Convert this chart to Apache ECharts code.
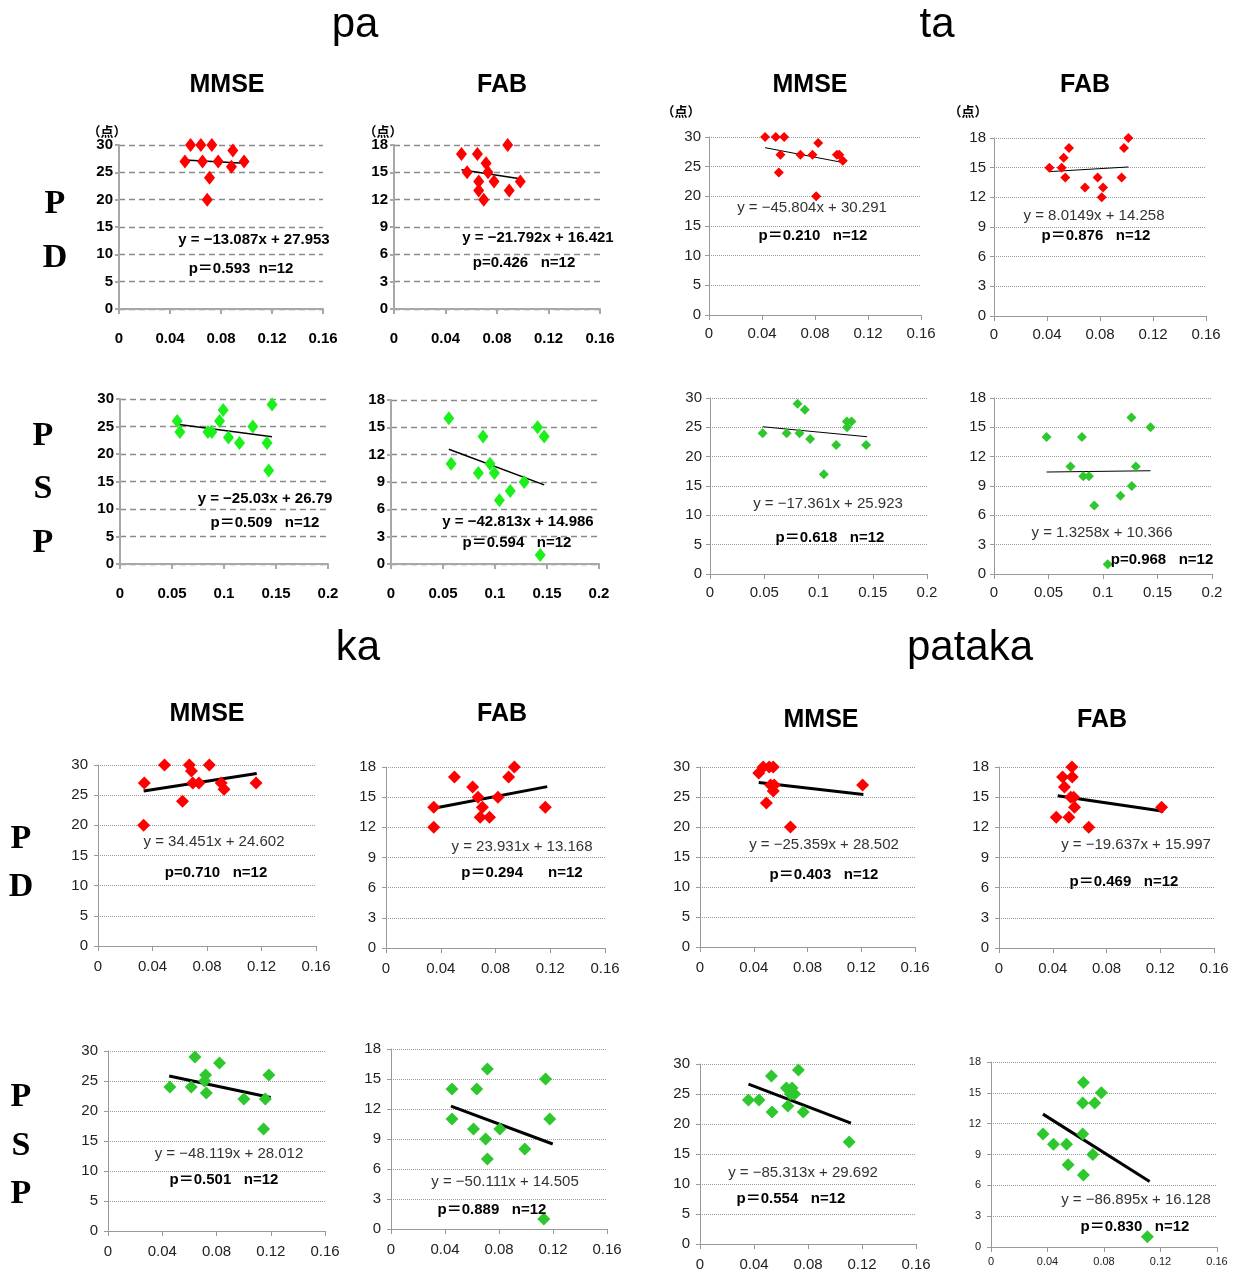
<!DOCTYPE html>
<html><head><meta charset="utf-8">
<script src="https://cdn.jsdelivr.net/npm/echarts@6/dist/echarts.min.js"></script>
<style>html,body{margin:0;padding:0;background:#fff}#c{width:1239px;height:1275px}</style>
</head><body><div id="c"></div>
<script>
// ---------- DATA (x = ratio, y = score) ----------
const paPdMmse = [[0.0517,27],[0.0561,30],[0.0642,30],[0.0655,27],[0.0728,30],[0.0710,24],[0.0692,20],[0.0778,27],[0.0893,29],[0.0882,26],[0.0981,27]];
const paPdMmseTrend = [[0.0517,27.25],[0.0981,26.67]];
const paPdFab = [[0.0524,17],[0.0568,15],[0.0648,17],[0.0658,14],[0.0658,13],[0.0697,12],[0.0715,16],[0.0730,15],[0.0777,14],[0.0883,18],[0.0895,13],[0.0981,14]];
const paPdFabTrend = [[0.0524,15.28],[0.0991,14.26]];
const paPspMmse = [[0.055,26],[0.0576,24],[0.0845,24],[0.0883,24],[0.0957,26],[0.0992,28],[0.1043,23],[0.1149,22],[0.1277,25],[0.1414,22],[0.143,17],[0.1462,29]];
const paPspMmseTrend = [[0.055,25.41],[0.1462,23.13]];
const paPspFab = [[0.0556,16],[0.0578,11],[0.084,10],[0.0885,14],[0.0952,11],[0.0994,10],[0.1042,7],[0.1147,8],[0.1281,9],[0.1409,15],[0.1473,14],[0.1435,1]];
const paPspFabTrend = [[0.0556,12.6],[0.1473,8.68]];

const taPdMmse = [[0.0423,30],[0.0504,30],[0.0567,30],[0.0539,27],[0.0527,24],[0.069,27],[0.0781,27],[0.0824,29],[0.0809,20],[0.0965,27],[0.0983,27],[0.101,26]];
const taPdMmseTrend = [[0.0423,28.2],[0.101,25.7]];
const taPdFab = [[0.0418,15],[0.0511,15],[0.0526,16],[0.0566,17],[0.0538,14],[0.0687,13],[0.0782,14],[0.0813,12],[0.0823,13],[0.0963,14],[0.0981,17],[0.1014,18]];
const taPdFabTrend = [[0.0418,14.6],[0.1014,15.07]];
const taPspMmse = [[0.0485,24],[0.0706,24],[0.0807,29],[0.0825,24],[0.0874,28],[0.0923,23],[0.1049,17],[0.1163,22],[0.1261,26],[0.1264,25],[0.1304,26],[0.1439,22]];
const taPspMmseTrend = [[0.0485,25.1],[0.1448,23.4]];
const taPspFab = [[0.0482,14],[0.0702,11],[0.0807,14],[0.0819,10],[0.0871,10],[0.092,7],[0.1043,1],[0.116,8],[0.1264,9],[0.1261,16],[0.1301,11],[0.1436,15]];
const taPspFabTrend = [[0.0482,10.43],[0.1436,10.56]];

const kaPdMmse = [[0.034,27],[0.0335,20],[0.0488,30],[0.062,24],[0.067,30],[0.0686,29],[0.0696,27],[0.0741,27],[0.0817,30],[0.0904,27],[0.0925,26],[0.116,27]];
const kaPdMmseTrend = [[0.0335,25.7],[0.1165,28.6]];
const kaPdFab = [[0.0349,14],[0.0349,12],[0.05,17],[0.0633,16],[0.0672,15],[0.0704,14],[0.0688,13],[0.0756,13],[0.0818,15],[0.0896,17],[0.0938,18],[0.1164,14]];
const kaPdFabTrend = [[0.0349,13.9],[0.1178,16.05]];
const kaPspMmse = [[0.0456,24],[0.0641,29],[0.0614,24],[0.072,26],[0.0712,25],[0.0725,23],[0.0822,28],[0.1002,22],[0.116,22],[0.1147,17],[0.1186,26]];
const kaPspMmseTrend = [[0.0451,25.84],[0.1199,22.24]];
const kaPspFab = [[0.0452,14],[0.0452,11],[0.0635,14],[0.0611,10],[0.0714,16],[0.0701,9],[0.0714,7],[0.0806,10],[0.0991,8],[0.1145,15],[0.1176,11],[0.1132,1]];
const kaPspFabTrend = [[0.0444,12.28],[0.1198,8.5]];

const patakaPdMmse = [[0.0437,29],[0.047,30],[0.0515,30],[0.0545,30],[0.0525,27],[0.0552,27],[0.0545,26],[0.0494,24],[0.0673,20],[0.121,27]];
const patakaPdMmseTrend = [[0.0437,27.4],[0.1216,25.4]];
const patakaPdFab = [[0.0426,13],[0.0473,17],[0.0487,16],[0.052,13],[0.0543,18],[0.0545,17],[0.0534,15],[0.0556,15],[0.0562,14],[0.0668,12],[0.121,14]];
const patakaPdFabTrend = [[0.0437,15.14],[0.1224,13.6]];
const patakaPspMmse = [[0.0359,24],[0.0437,24],[0.0529,28],[0.0534,22],[0.064,26],[0.0651,23],[0.067,25],[0.0682,26],[0.0701,25],[0.0729,29],[0.0765,22],[0.1105,17]];
const patakaPspMmseTrend = [[0.0359,26.63],[0.1118,20.15]];
const patakaPspFab = [[0.0368,11],[0.0442,10],[0.0535,10],[0.0546,8],[0.0654,16],[0.0649,14],[0.0649,11],[0.0654,7],[0.0721,9],[0.0734,14],[0.0781,15],[0.1107,1]];
const patakaPspFabTrend = [[0.0368,12.93],[0.1123,6.37]];

// ---------- LAYOUT ----------
const RED = '#ff0000', GREEN_A = '#1cf01c', GREEN_B = '#2ec82e';
const panels = [
  {d:paPdMmse, t:paPdMmseTrend, g:[119,145,204,164], xm:0.16, xi:0.04, ym:30, yi:5, s:'pa', c:RED},
  {d:paPdFab, t:paPdFabTrend, g:[394,145,206,164], xm:0.16, xi:0.04, ym:18, yi:3, s:'pa', c:RED},
  {d:paPspMmse, t:paPspMmseTrend, g:[120,399,208,165], xm:0.2, xi:0.05, ym:30, yi:5, s:'pa', c:GREEN_A},
  {d:paPspFab, t:paPspFabTrend, g:[391,400,208,164], xm:0.2, xi:0.05, ym:18, yi:3, s:'pa', c:GREEN_A},
  {d:taPdMmse, t:taPdMmseTrend, g:[709,137,212,178], xm:0.16, xi:0.04, ym:30, yi:5, s:'ta', c:RED},
  {d:taPdFab, t:taPdFabTrend, g:[994,138,212,178], xm:0.16, xi:0.04, ym:18, yi:3, s:'ta', c:RED},
  {d:taPspMmse, t:taPspMmseTrend, g:[710,398,217,176], xm:0.2, xi:0.05, ym:30, yi:5, s:'ta', c:GREEN_B},
  {d:taPspFab, t:taPspFabTrend, g:[994,398,218,176], xm:0.2, xi:0.05, ym:18, yi:3, s:'ta', c:GREEN_B},
  {d:kaPdMmse, t:kaPdMmseTrend, g:[98,765,218,181], xm:0.16, xi:0.04, ym:30, yi:5, s:'ka', c:RED},
  {d:kaPdFab, t:kaPdFabTrend, g:[386,767,219,181], xm:0.16, xi:0.04, ym:18, yi:3, s:'ka', c:RED},
  {d:kaPspMmse, t:kaPspMmseTrend, g:[108,1051,217,180], xm:0.16, xi:0.04, ym:30, yi:5, s:'ka', c:GREEN_B},
  {d:kaPspFab, t:kaPspFabTrend, g:[391,1049,216,180], xm:0.16, xi:0.04, ym:18, yi:3, s:'ka', c:GREEN_B},
  {d:patakaPdMmse, t:patakaPdMmseTrend, g:[700,767,215,180], xm:0.16, xi:0.04, ym:30, yi:5, s:'ka', c:RED},
  {d:patakaPdFab, t:patakaPdFabTrend, g:[999,767,215,181], xm:0.16, xi:0.04, ym:18, yi:3, s:'ka', c:RED},
  {d:patakaPspMmse, t:patakaPspMmseTrend, g:[700,1064,216,180], xm:0.16, xi:0.04, ym:30, yi:5, s:'ka', c:GREEN_B},
  {d:patakaPspFab, t:patakaPspFabTrend, g:[991,1062,226,185], xm:0.16, xi:0.04, ym:18, yi:3, s:'small', c:GREEN_B}
];

const STY = {
  pa:   {fs:15, fw:'bold', col:'#000', xm:22, ym:6, yp:[7,0,0,0], grid:'#8a8a8a', gw:1.3, gt:[6,4], ax:'#a8a8a8', aw:2, sym:[11,14], tw:1.5},
  ta:   {fs:15, fw:'normal', col:'#222', xm:11, ym:8, yp:[2,0,0,0], grid:'#9a9a9a', gw:1, gt:[1,1], ax:'#999', aw:1, sym:[10,10], tw:1},
  ka:   {fs:15, fw:'normal', col:'#222', xm:13, ym:10, yp:[2,0,0,0], grid:'#9a9a9a', gw:1, gt:[1,1], ax:'#999', aw:1, sym:[13,13], tw:3},
  small:{fs:11, fw:'normal', col:'#222', xm:9, ym:10, yp:[0,0,0,0], grid:'#9a9a9a', gw:1, gt:[1,1], ax:'#999', aw:1, sym:[13,13], tw:3}
};
const FF = '"Liberation Sans", Arial, "Noto Sans CJK JP", sans-serif';

const grids = [], xAxes = [], yAxes = [], series = [];
panels.forEach((p, i) => {
  const st = STY[p.s];
  grids.push({left:p.g[0], top:p.g[1], width:p.g[2], height:p.g[3], containLabel:false});
  const lab = {fontSize:st.fs, fontWeight:st.fw, color:st.col, fontFamily:FF};
  xAxes.push({type:'value', gridIndex:i, min:0, max:p.xm, interval:p.xi,
    axisLine:{show:true, onZero:false, lineStyle:{color:st.ax, width:st.aw}},
    axisTick:{show:true, length:5, lineStyle:{color:st.ax, width:st.aw}},
    axisLabel:Object.assign({margin:st.xm, showMinLabel:true, showMaxLabel:true}, lab),
    splitLine:{show:false}});
  yAxes.push({type:'value', gridIndex:i, min:0, max:p.ym, interval:p.yi,
    axisLine:{show:true, onZero:false, lineStyle:{color:st.ax, width:st.aw}},
    axisTick:{show:true, length:4, lineStyle:{color:st.ax, width:st.aw}},
    axisLabel:Object.assign({margin:st.ym, padding:st.yp}, lab),
    splitLine:{show:true, lineStyle:{color:st.grid, width:st.gw, type:st.gt}}});
  series.push({type:'line', xAxisIndex:i, yAxisIndex:i, data:p.t, showSymbol:false, silent:true,
    lineStyle:{color:'#000', width:st.tw}, z:3, animation:false});
  series.push({type:'scatter', xAxisIndex:i, yAxisIndex:i, data:p.d, symbol:'diamond', symbolSize:st.sym,
    itemStyle:{color:p.c, opacity:1}, z:4, animation:false});
});

// ---------- TEXT ----------
const texts = [];
function T(text, x, y, font, fill, align) {
  texts.push({type:'text', x:x, y:y, silent:true, z:10,
    style:{text:text, font:font, fill:fill||'#000', textAlign:align||'center', textVerticalAlign:'middle', align:align||'center', verticalAlign:'middle'}});
}
const fTitle = 'normal 42px ' + FF, fSub = 'bold 25px ' + FF, fRow = 'bold 34px "Liberation Serif", "Times New Roman", serif';
const fEqB = 'bold 15px ' + FF, fEq = 'normal 15px ' + FF, fP = 'bold 15px ' + FF, fUnit = 'bold 13px "Noto Sans CJK JP", sans-serif';
[['pa',355,25],['ta',937,25],['ka',358,648],['pataka',970,648]].forEach(a => T(a[0], a[1], a[2], fTitle));
[['MMSE',227,85],['FAB',502,85],['MMSE',810,85],['FAB',1085,85],['MMSE',207,714],['FAB',502,714],['MMSE',821,720],['FAB',1102,720]].forEach(a => T(a[0], a[1], a[2], fSub));
[['P',55,204],['D',55,258],['P',43,436],['S',43,489],['P',43,543],['P',21,839],['D',21,887],['P',21,1097],['S',21,1146],['P',21,1194]].forEach(a => T(a[0], a[1], a[2], fRow));
[['（点）',107,131],['（点）',383,131],['（点）',681,111],['（点）',968,111]].forEach(a => T(a[0], a[1], a[2], fUnit));

const eqs = [
  ['y = −13.087x + 27.953',254,240,fEqB,'#000'],['p＝0.593  n=12',241,269,fP,'#000'],
  ['y = −21.792x + 16.421',538,238,fEqB,'#000'],['p=0.426   n=12',524,263,fP,'#000'],
  ['y = −25.03x + 26.79',265,499,fEqB,'#000'],['p＝0.509   n=12',265,523,fP,'#000'],
  ['y = −42.813x + 14.986',518,522,fEqB,'#000'],['p＝0.594   n=12',517,543,fP,'#000'],
  ['y = −45.804x + 30.291',812,208,fEq,'#333'],['p＝0.210   n=12',813,236,fP,'#000'],
  ['y = 8.0149x + 14.258',1094,216,fEq,'#333'],['p＝0.876   n=12',1096,236,fP,'#000'],
  ['y = −17.361x + 25.923',828,504,fEq,'#333'],['p＝0.618   n=12',830,538,fP,'#000'],
  ['y = 1.3258x + 10.366',1102,533,fEq,'#333'],['p=0.968   n=12',1162,560,fP,'#000'],
  ['y = 34.451x + 24.602',214,842,fEq,'#333'],['p=0.710   n=12',216,873,fP,'#000'],
  ['y = 23.931x + 13.168',522,847,fEq,'#333'],['p＝0.294      n=12',522,873,fP,'#000'],
  ['y = −48.119x + 28.012',229,1154,fEq,'#333'],['p＝0.501   n=12',224,1180,fP,'#000'],
  ['y = −50.111x + 14.505',505,1182,fEq,'#333'],['p＝0.889   n=12',492,1210,fP,'#000'],
  ['y = −25.359x + 28.502',824,845,fEq,'#333'],['p＝0.403   n=12',824,875,fP,'#000'],
  ['y = −19.637x + 15.997',1136,845,fEq,'#333'],['p＝0.469   n=12',1124,882,fP,'#000'],
  ['y = −85.313x + 29.692',803,1173,fEq,'#333'],['p＝0.554   n=12',791,1199,fP,'#000'],
  ['y = −86.895x + 16.128',1136,1200,fEq,'#333'],['p＝0.830   n=12',1135,1227,fP,'#000']
];
eqs.forEach(a => T(a[0], a[1], a[2], a[3], a[4]));

const chart = echarts.init(document.getElementById('c'), null, {renderer:'canvas'});
chart.setOption({
  animation:false, backgroundColor:'#fff',
  grid:grids, xAxis:xAxes, yAxis:yAxes, series:series,
  graphic:{elements:texts}
});
</script></body></html>
